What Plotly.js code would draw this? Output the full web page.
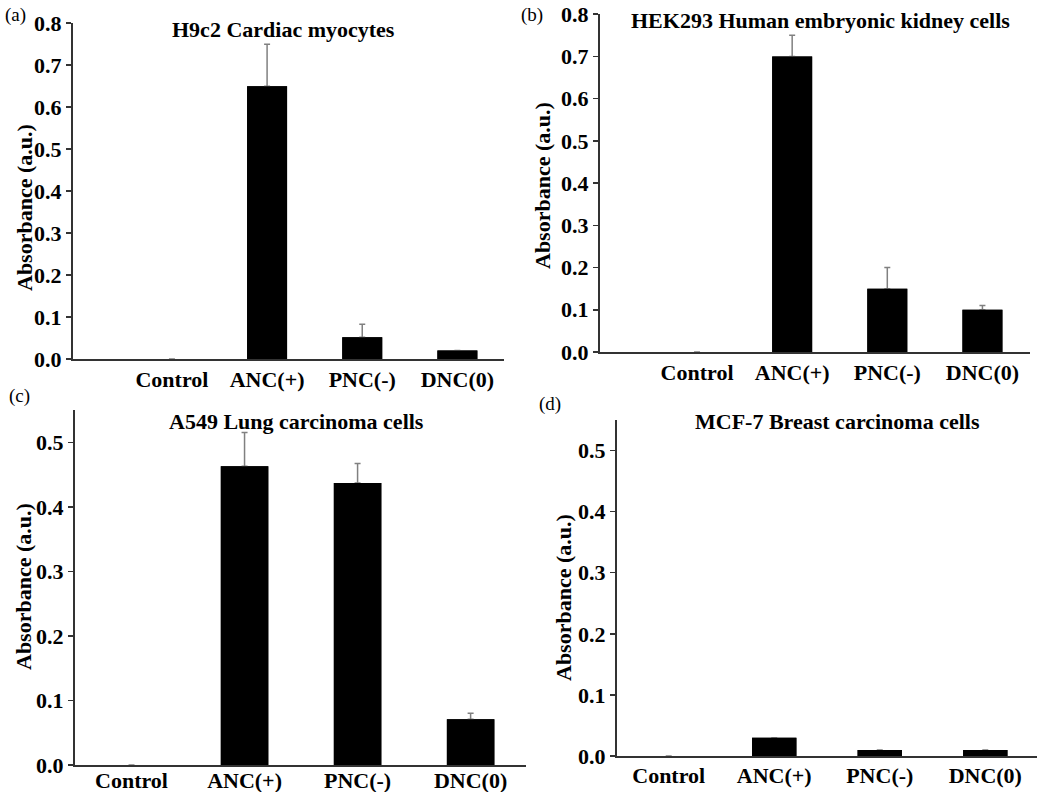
<!DOCTYPE html>
<html>
<head>
<meta charset="utf-8">
<script src="https://cdn.plot.ly/plotly-3.0.1.min.js"></script>
<style>html,body{margin:0;padding:0;background:#fff;}#chart{width:1050px;height:792px;}</style>
</head>
<body>
<div id="chart"></div>
<script>
// ---- data ----
const categories = ["Control", "ANC(+)", "PNC(-)", "DNC(0)"];
const panelTitles = ["H9c2 Cardiac myocytes", "HEK293 Human embryonic kidney cells", "A549 Lung carcinoma cells", "MCF-7 Breast carcinoma cells"];
const panelLetters = ["(a)", "(b)", "(c)", "(d)"];
const h9c2Mean = [0, 0.65, 0.052, 0.02];
const h9c2Err = [null, 0.10, 0.031, null];
const hek293Mean = [0, 0.70, 0.15, 0.10];
const hek293Err = [null, 0.05, 0.05, 0.01];
const a549Mean = [0, 0.463, 0.437, 0.071];
const a549Err = [null, 0.052, 0.030, 0.009];
const mcf7Mean = [0, 0.03, 0.01, 0.01];
const mcf7Err = [null, null, null, null];
const yTicksHigh = [0, 0.1, 0.2, 0.3, 0.4, 0.5, 0.6, 0.7, 0.8];
const yTicksLow = [0, 0.1, 0.2, 0.3, 0.4, 0.5];
const yTitle = "Absorbance (a.u.)";

// ---- styling ----
const serif = "Liberation Serif, Times New Roman, serif";
const boldFont = (size) => ({family: serif, size: size, color: "#000", weight: "bold"});
const means = [h9c2Mean, hek293Mean, a549Mean, mcf7Mean];
const errs = [h9c2Err, hek293Err, a549Err, mcf7Err];

const traces = [];
means.forEach((m, i) => {
  const xa = i === 0 ? "x" : "x" + (i + 1);
  const ya = i === 0 ? "y" : "y" + (i + 1);
  // bars carrying the (upper) error bars
  traces.push({
    type: "bar", x: categories, y: m, xaxis: xa, yaxis: ya,
    marker: {color: "#000", line: {width: 0}},
    error_y: {type: "data", symmetric: false, array: errs[i], arrayminus: errs[i].map(() => 0),
              visible: true, color: "#808080", thickness: 1.5, width: 3},
    showlegend: false
  });
  // same bars drawn again on top, hiding the lower end of the error bars
  traces.push({
    type: "bar", x: categories, y: m, xaxis: xa, yaxis: ya,
    marker: {color: "#000", line: {width: 0}},
    showlegend: false
  });
});

function xax(domain, range, anchor, standoff) {
  return {domain: domain, type: "category", range: range, anchor: anchor, showline: true, linecolor: "#333",
          linewidth: 2, ticks: "", showgrid: false, zeroline: false, tickfont: boldFont(22),
          ticklabelstandoff: standoff, fixedrange: true};
}
function yax(domain, range, tvals, anchor) {
  return {domain: domain, range: range, anchor: anchor, showline: true, linecolor: "#333", linewidth: 2,
          ticks: "outside", ticklen: 5, tickwidth: 1.5, tickcolor: "#333",
          tickvals: tvals, ticktext: tvals.map(v => v.toFixed(1)), ticklabeloverflow: "allow",
          showgrid: false, zeroline: false, tickfont: boldFont(22), fixedrange: true};
}

const W = 1050, H = 792;
const px = (a, b) => [a / W, b / W];
const py = (top, bottom) => [1 - bottom / H, 1 - top / H];
const paperText = (text, x, y, font, extra) => Object.assign({
  text: text, x: x / W, y: 1 - y / H, xref: "paper", yref: "paper",
  xanchor: "center", yanchor: "middle", showarrow: false, font: font}, extra || {});

const annotations = [];
[[283, 29], [820, 21], [296, 421], [837, 421]].forEach((p, i) =>
  annotations.push(paperText(panelTitles[i], p[0], p[1], boldFont(22))));
[[15, 15], [532, 15], [19, 396], [550, 404]].forEach((p, i) =>
  annotations.push(paperText(panelLetters[i], p[0], p[1], {family: serif, size: 19, color: "#000"})));
[[24, 208], [542, 186], [23, 587], [563, 598]].forEach(p =>
  annotations.push(paperText(yTitle, p[0], p[1], boldFont(22), {textangle: -90})));

const layout = {
  width: W, height: H,
  margin: {l: 0, r: 0, t: 0, b: 0},
  paper_bgcolor: "#fff", plot_bgcolor: "#fff",
  bargap: 0.58,
  barmode: "overlay",
  showlegend: false,
  xaxis: xax(px(73, 504), [-1.04, 3.49], "y", 0),
  yaxis: yax(py(23, 359), [0, 0.8005], yTicksHigh, "x"),
  xaxis2: xax(px(600, 1030), [-1.02, 3.5], "y2", 0),
  yaxis2: yax(py(14, 352), [0, 0.8005], yTicksHigh, "x2"),
  xaxis3: xax(px(75, 526), [-0.5, 3.49], "y3", -5),
  yaxis3: yax(py(410, 765), [0, 0.55], yTicksLow, "x3"),
  xaxis4: xax(px(617, 1037), [-0.49, 3.49], "y4", -1),
  yaxis4: yax(py(420, 756), [0, 0.55], yTicksLow, "x4"),
  annotations: annotations
};

Plotly.newPlot("chart", traces, layout, {displayModeBar: false, staticPlot: true});
</script>
</body>
</html>
